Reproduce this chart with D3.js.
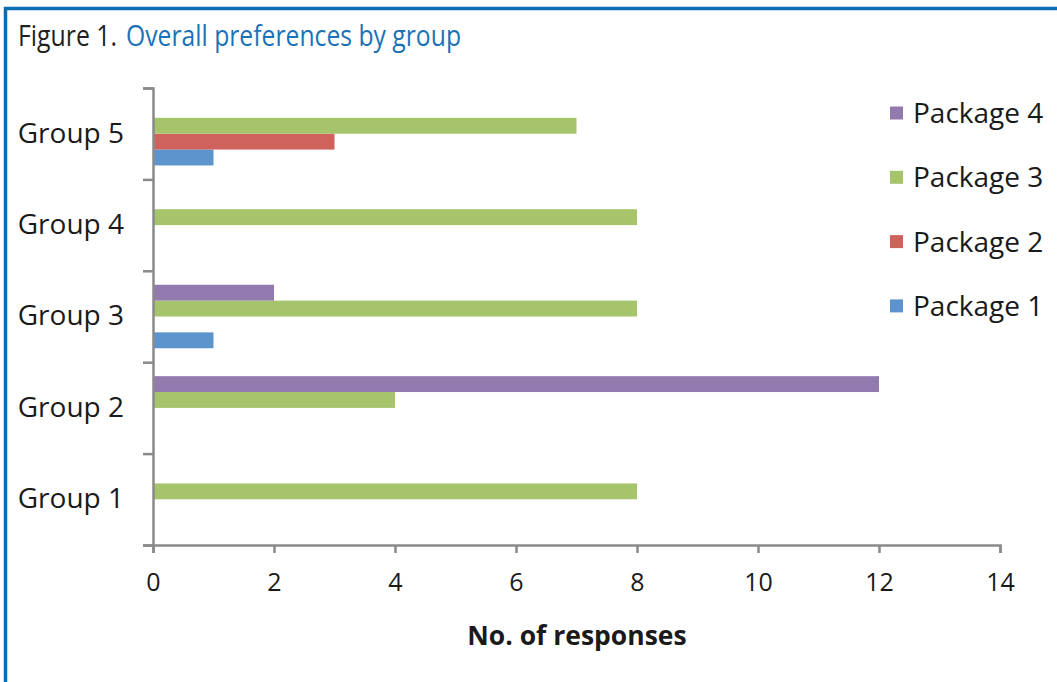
<!DOCTYPE html>
<html>
<head>
<meta charset="utf-8">
<script src="https://cdn.jsdelivr.net/npm/d3@7"></script>
<style>
  body { margin: 0; background: #fff; }
  svg { display: block; }
  .axis text { font-family: "Open Sans", sans-serif; fill: #1a1a1a; }
</style>
</head>
<body>
<div id="chart"></div>
<script>
// donnees
var groups = ["Group 1", "Group 2", "Group 3", "Group 4", "Group 5"];
var series = ["Package 1", "Package 2", "Package 3", "Package 4"];
var package1 = [0, 0, 1, 0, 1];
var package2 = [0, 0, 0, 0, 3];
var package3 = [8, 4, 8, 8, 7];
var package4 = [0, 12, 2, 0, 0];
var xTicks = [0, 2, 4, 6, 8, 10, 12, 14];
var colors = ["#5c95cd", "#cf625c", "#a6c46b", "#927aaf"];

var W = 1057, H = 682;
var values = [package1, package2, package3, package4];

var svg = d3.select("#chart").append("svg")
    .attr("width", W)
    .attr("height", H);

// cadre bleu (haut + gauche)
svg.append("path")
    .attr("d", "M5.5," + H + "V8.5H" + W)
    .attr("fill", "none")
    .attr("stroke", "#0a6cb2")
    .attr("stroke-width", 3.5);

// titre, en deux morceaux (noir puis bleu)
svg.append("text")
    .attr("x", 18)
    .attr("y", 46)
    .attr("font-family", "'Open Sans', sans-serif")
    .attr("font-size", 29)
    .attr("fill", "#231f20")
    .attr("textLength", 99)
    .attr("lengthAdjust", "spacingAndGlyphs")
    .text("Figure 1.");
svg.append("text")
    .attr("x", 126)
    .attr("y", 46)
    .attr("font-family", "'Open Sans', sans-serif")
    .attr("font-size", 29)
    .attr("fill", "#1b72b6")
    .attr("textLength", 335)
    .attr("lengthAdjust", "spacingAndGlyphs")
    .text("Overall preferences by group");

var x = d3.scaleLinear().domain([0, 14]).range([153, 1000]);

// Group 5 en haut
var y0 = d3.scaleBand()
    .domain(groups.slice().reverse())
    .range([88, 545])
    .padding(0);

// Package 4 en haut de chaque groupe
var y1 = d3.scaleBand()
    .domain(series.slice().reverse())
    .range([0, y0.bandwidth()])
    .paddingInner(0)
    .paddingOuter(0.88);

var rows = [];
groups.forEach(function(g, i) {
    series.forEach(function(s, j) {
        rows.push({ group: g, serie: s, value: values[j][i], color: colors[j] });
    });
});

svg.append("g").selectAll("rect")
    .data(rows.filter(function(d) { return d.value > 0; }))
    .enter().append("rect")
    .attr("x", x(0))
    .attr("y", function(d) { return y0(d.group) + y1(d.serie); })
    .attr("width", function(d) { return x(d.value) - x(0); })
    .attr("height", y1.bandwidth())
    .attr("fill", function(d) { return d.color; });

// axe x
var xAxis = svg.append("g")
    .attr("class", "axis")
    .attr("transform", "translate(0,545)")
    .call(d3.axisBottom(x).tickValues(xTicks).tickSize(8).tickSizeOuter(8).tickPadding(20));
xAxis.selectAll("text").attr("font-size", 25);

// axe y : traits entre les categories
var yLine = d3.scaleLinear().domain([0, 5]).range([545, 88]);
svg.append("g")
    .attr("class", "axis")
    .attr("transform", "translate(153,0)")
    .call(d3.axisLeft(yLine).ticks(5).tickSize(10).tickSizeOuter(10).tickFormat(""));

var yLab = svg.append("g")
    .attr("class", "axis")
    .attr("transform", "translate(153,0)")
    .call(d3.axisLeft(y0).tickSize(0).tickPadding(29));
yLab.select(".domain").remove();
yLab.selectAll("text").attr("font-size", 28);

svg.selectAll(".axis path, .axis line")
    .attr("stroke", "#8a8a8a")
    .attr("stroke-width", 2.5);

// titre axe x
svg.append("text")
    .attr("x", 577)
    .attr("y", 645)
    .attr("text-anchor", "middle")
    .attr("font-family", "'Open Sans', sans-serif")
    .attr("font-weight", "bold")
    .attr("font-size", 26.5)
    .attr("fill", "#1a1a1a")
    .text("No. of responses");

// legende
var legend = svg.append("g").selectAll("g")
    .data(series.slice().reverse())
    .enter().append("g")
    .attr("transform", function(d, i) { return "translate(890," + (113 + i * 64.3) + ")"; });

legend.append("rect")
    .attr("y", -6.5)
    .attr("width", 13)
    .attr("height", 13)
    .attr("fill", function(d) { return colors[series.indexOf(d)]; });

legend.append("text")
    .attr("x", 23)
    .attr("dy", "0.36em")
    .attr("font-family", "'Open Sans', sans-serif")
    .attr("font-size", 28)
    .attr("fill", "#1a1a1a")
    .text(function(d) { return d; });
</script>
</body>
</html>
